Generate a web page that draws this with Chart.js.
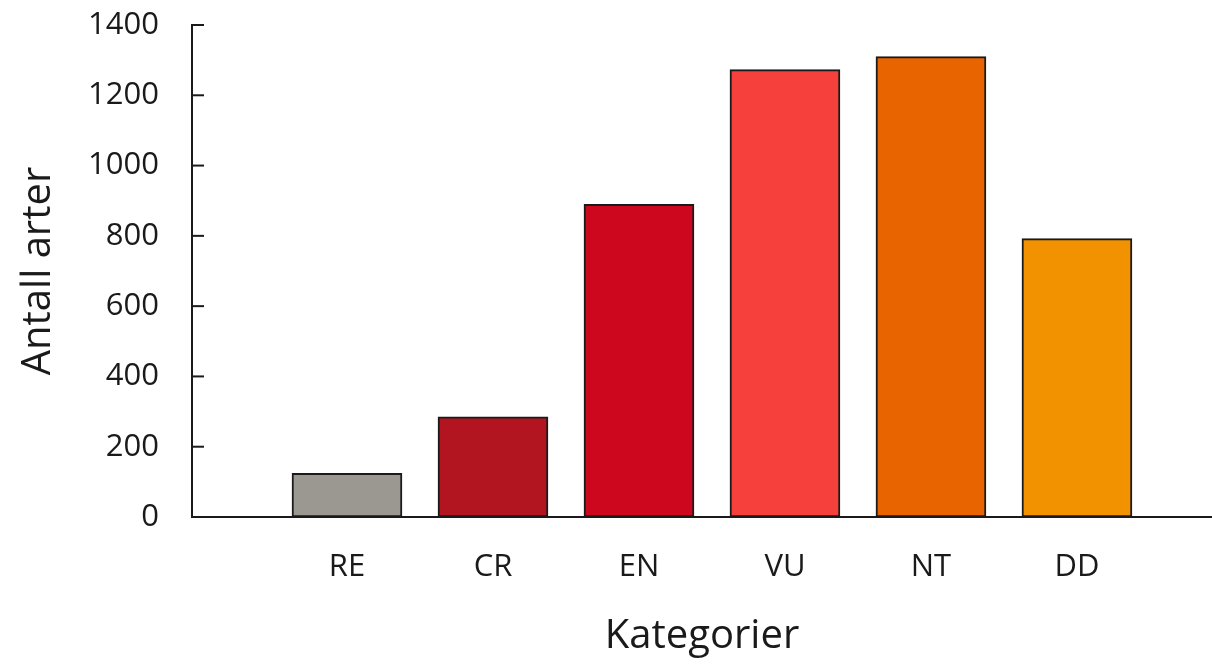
<!DOCTYPE html>
<html>
<head>
<meta charset="utf-8">
<script src="https://cdn.jsdelivr.net/npm/chart.js@4/dist/chart.umd.min.js"></script>
<style>
  html, body { margin: 0; padding: 0; background: #fff; }
  #wrap { width: 1212px; height: 664px; }
</style>
</head>
<body>
<div id="wrap"><canvas id="chart" width="1212" height="664"></canvas></div>
<script>
const categories = ['RE', 'CR', 'EN', 'VU', 'NT', 'DD'];
const counts = [124, 285, 890, 1273, 1310, 792];
const colors = ['#9b9791', '#b31520', '#cc071e', '#f6403b', '#e86400', '#f39200'];
const yTicks = [0, 200, 400, 600, 800, 1000, 1200, 1400];

const ink = '#1a1a1a';
const fontFamily = '"Open Sans", sans-serif';

// inner tick marks on the y axis (they point into the plot)
const innerTicks = {
  id: 'innerTicks',
  afterDraw(chart) {
    const y = chart.scales.y;
    const ctx = chart.ctx;
    ctx.save();
    ctx.strokeStyle = ink;
    ctx.lineWidth = 2;
    yTicks.forEach(v => {
      const py = y.getPixelForValue(v);
      ctx.beginPath();
      ctx.moveTo(y.right, py);
      ctx.lineTo(y.right + 12, py);
      ctx.stroke();
    });
    ctx.restore();
  }
};

new Chart(document.getElementById('chart'), {
  type: 'bar',
  data: {
    datasets: [{
      data: counts.map((v, i) => ({ x: i + 1, y: v })),
      backgroundColor: colors,
      borderColor: ink,
      borderWidth: 2,
      borderSkipped: false,
      barThickness: 110
    }]
  },
  options: {
    responsive: false,
    animation: false,
    layout: { padding: { top: 25, right: 0, left: 0, bottom: 0 } },
    plugins: { legend: { display: false }, tooltip: { enabled: false } },
    scales: {
      x: {
        type: 'linear',
        offset: false,
        min: -0.0616,
        max: 6.925,
        afterBuildTicks: s => { s.ticks = categories.map((c, i) => ({ value: i + 1 })); },
        afterFit: s => { s.height = 147; s.paddingLeft = 0; s.paddingRight = 0; },
        grid: { display: false, drawTicks: false, offset: false },
        border: { display: true, color: ink, width: 2 },
        ticks: {
          callback: v => categories[v - 1],
          color: ink,
          padding: 32,
          maxRotation: 0,
          font: { family: fontFamily, size: 31 }
        },
        title: {
          display: true,
          text: 'Kategorier',
          color: ink,
          padding: { top: 0, bottom: 3 },
          font: { family: fontFamily, size: 40 }
        }
      },
      y: {
        min: 0,
        max: 1400,
        afterBuildTicks: s => { s.ticks = yTicks.map(v => ({ value: v })); },
        afterFit: s => { s.width = 192; s.paddingTop = 0; s.paddingBottom = 0; },
        grid: { display: false, drawTicks: false },
        border: { display: true, color: ink, width: 2 },
        ticks: {
          callback: v => String(v),
          color: ink,
          padding: 33,
          font: { family: fontFamily, size: 31 }
        },
        title: {
          display: true,
          text: 'Antall arter',
          color: ink,
          padding: { top: 15, bottom: 0 },
          font: { family: fontFamily, size: 40 }
        }
      }
    }
  },
  plugins: [innerTicks]
});
</script>
</body>
</html>
